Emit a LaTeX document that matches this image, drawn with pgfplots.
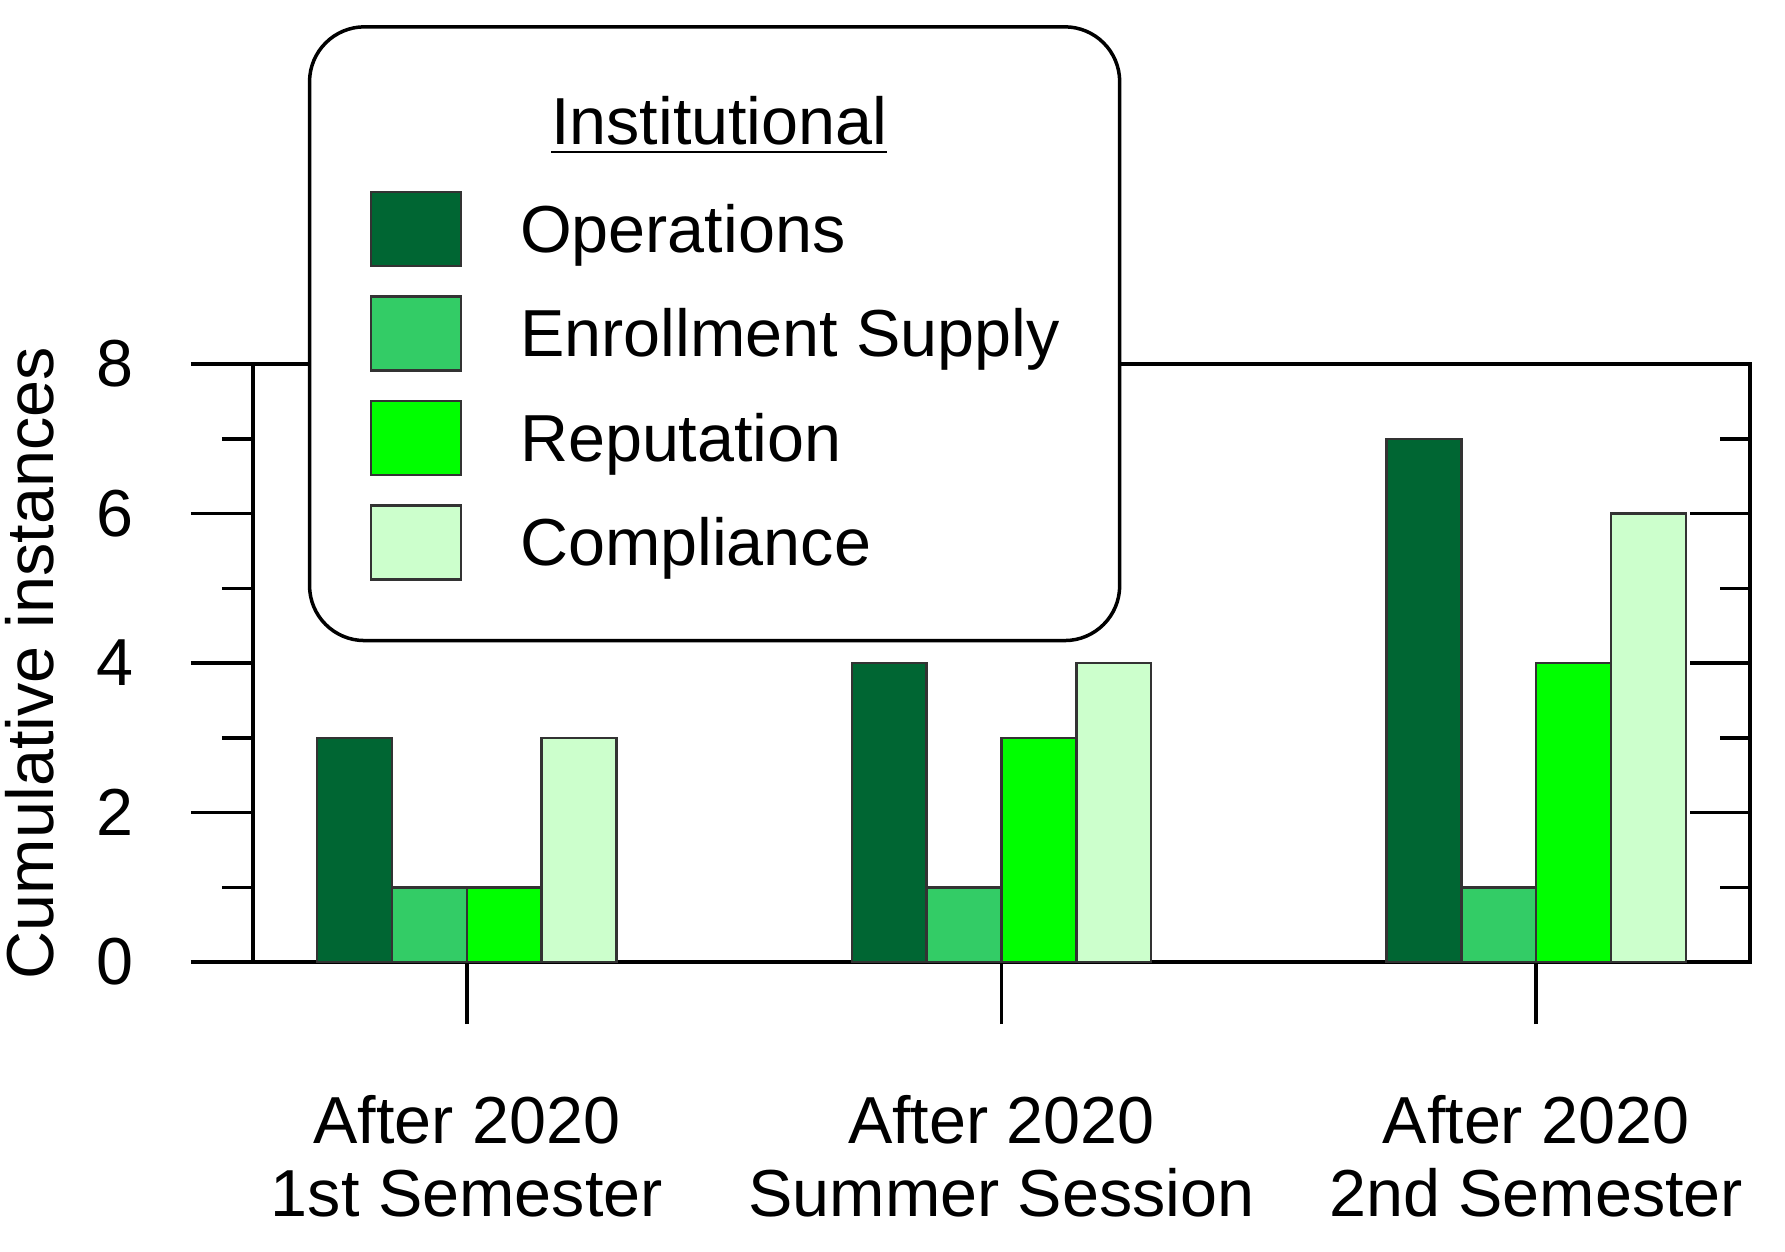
\documentclass[border=0pt]{standalone}
\usepackage{fontspec}
\setmainfont{Liberation Sans}
\usepackage{pgfplots}
\pgfplotsset{compat=1.18}
\definecolor{ops}{HTML}{006633}
\definecolor{enr}{HTML}{33CC66}
\definecolor{rep}{HTML}{00FF00}
\definecolor{comp}{HTML}{CCFFCC}
\pgfplotsset{sqlegend/.style={legend image code/.code={\draw[##1, sharp corners, line width=0.5pt] (0pt,-6.8pt) rectangle (18pt,8.0pt); \node[inner sep=0pt, minimum size=0pt, draw=none, fill=none] at (29.6pt,0pt) {};}}}
\begin{document}
\begin{tikzpicture}
\useasboundingbox (-50.6pt,-57.8pt) rectangle (306.4pt,192.4pt);
\begin{axis}[
  at={(0,0)}, anchor=south west,
  scale only axis, width=299.4pt, height=119.6pt,
  xmin=-0.4, xmax=2.4, ymin=0, ymax=8,
  ybar=0pt, bar width=0.14,
  axis line style={line width=0.7pt},
  xtick={0,1,2},
  xticklabels={After 2020\\1st Semester, After 2020\\Summer Session, After 2020\\2nd Semester},
  x tick label style={align=center, font=\fontsize{13.3pt}{14.6pt}\selectfont, yshift=-10.7pt},
  y tick label style={font=\fontsize{13.3pt}{15pt}\selectfont, xshift=-8pt},
  /pgf/number format/assume math mode=true,
  ytick={0,2,4,6,8}, minor ytick={1,3,5,7},
  xtick pos=bottom, ytick pos=left,
  tick align=outside,
  major tick length=12.4pt, minor tick length=6.2pt,
  tick style={black, line width=0.7pt},
  minor tick style={black, line width=0.7pt},
  ylabel={Cumulative instances},
  every axis y label/.style={at={(axis description cs:-0.149,0.5)}, rotate=90, anchor=center, font=\fontsize{13.3pt}{15pt}\selectfont},
  legend cell align=left,
  legend style={
    at={(0.0366,1.5669)}, anchor=north west,
    draw=black, line width=0.7pt, rounded corners=11pt,
    inner xsep=12pt, inner ysep=12pt,
    font=\fontsize{13.3pt}{15pt}\selectfont,
    row sep=5.6pt,
    nodes={inner sep=0pt},
  },
]
\addlegendimage{empty legend}
\addlegendentry{\raisebox{2.05pt}{\rule{0pt}{11.6pt}\hspace{6.2pt}\underline{Institutional}}}
\addplot[fill=ops, draw=black!80, line width=0.5pt, sqlegend] coordinates {(0,3) (1,4) (2,7)};
\addlegendentry{Operations}
\addplot[fill=enr, draw=black!80, line width=0.5pt, sqlegend] coordinates {(0,1) (1,1) (2,1)};
\addlegendentry{Enrollment Supply}
\addplot[fill=rep, draw=black!80, line width=0.5pt, sqlegend] coordinates {(0,1) (1,3) (2,4)};
\addlegendentry{Reputation}
\addplot[fill=comp, draw=black!80, line width=0.5pt, sqlegend] coordinates {(0,3) (1,4) (2,6)};
\addlegendentry{Compliance}
\end{axis}
\begin{axis}[
  at={(0,0)}, anchor=south west,
  scale only axis, width=299.4pt, height=119.6pt,
  xmin=-0.4, xmax=2.4, ymin=0, ymax=8,
  axis x line=none, axis y line*=right,
  axis line style={line width=0.7pt, -},
  ytick={0,2,4,6,8}, minor ytick={1,3,5,7},
  yticklabels={},
  tick align=inside,
  major tick length=12pt, minor tick length=6pt,
  tick style={black, line width=0.7pt},
  minor tick style={black, line width=0.7pt},
]
\end{axis}
\end{tikzpicture}
\end{document}
